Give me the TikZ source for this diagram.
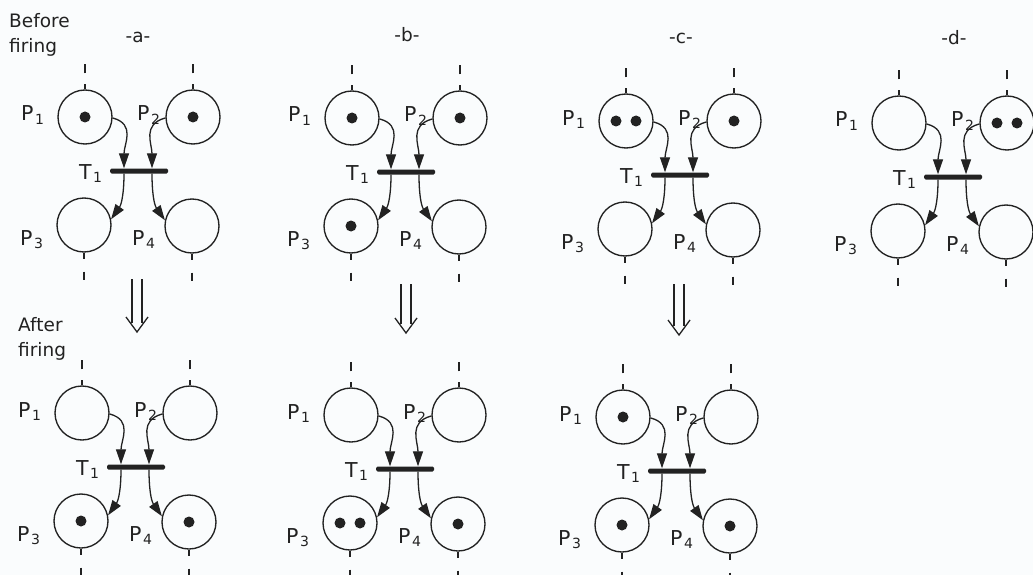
\documentclass[tikz,border=0pt]{standalone}
\usepackage{fontspec}
\setmainfont{DejaVu Sans}
\usetikzlibrary{arrows.meta}
\definecolor{ink}{HTML}{222222}
\definecolor{paper}{HTML}{FAFCFD}
\tikzset{
 place/.style={circle, draw=ink, line width=1.35pt, minimum size=54pt, inner sep=0pt},
 tbar/.style={rectangle, fill=ink, minimum width=58pt, minimum height=5pt, inner sep=0pt, rounded corners=1.5pt},
 arc/.style={draw=ink, line width=1.3pt, -{Triangle[length=15pt,width=10pt]}},
 lab/.style={font=\fontsize{20.5}{20.5}\selectfont, text=ink, inner sep=0pt, anchor=base west},
 ttl/.style={font=\fontsize{18.5}{18.5}\selectfont, text=ink, inner sep=0pt},
 stub/.style={draw=ink, line width=1.2pt},
 dblarrow/.style={draw=ink, line width=1.3pt},
}
\newcommand\psub[1]{\kern1.5pt\raisebox{-3.5pt}{\fontsize{14}{14}\selectfont #1}}
\newcommand\tokens[2]{\ifcase#2\or
  \fill[ink] (#1.center) circle (5.5pt);\or
  \fill[ink] ([xshift=-10pt]#1.center) circle (5.5pt);
  \fill[ink] ([xshift=10pt]#1.center) circle (5.5pt);\fi}
\newcommand\petrinet[7]{%
\begin{scope}[shift={(#2,-#3)}]
 \node[place] (#1p1) at (0,0) {};
 \node[place] (#1p2) at (108,0) {};
 \node[place] (#1p3) at (-1,-108) {};
 \node[place] (#1p4) at (107,-109) {};
 \node[tbar] (#1t) at (54,-54) {};
 \node[lab] (#1l1) at (-64,-4) {P\psub{1}};
 \node[lab] (#1l2) at (52,-4) {P\psub{2}};
 \node[lab] (#1l3) at (-65,-128) {P\psub{3}};
 \node[lab] (#1l4) at (47,-128) {P\psub{4}};
 \node[lab] (#1lt) at (-6,-62) {T\psub{1}};
 \draw[arc] (#1p1.-2) to[out=-15,in=90,looseness=1.2] ([xshift=-15pt]#1t.north);
 \draw[arc] (#1p2.182) to[out=195,in=90,looseness=1.2] ([xshift=13pt]#1t.north);
 \draw[arc] ([xshift=-15pt]#1t.south) to[out=-90,in=55] (#1p3.12);
 \draw[arc] ([xshift=13pt]#1t.south) to[out=-90,in=125] (#1p4.168);
 \draw[stub] (#1p1.north) -- ++(0,5);
 \draw[stub] ([yshift=16pt]#1p1.north) -- ++(0,9);
 \draw[stub] (#1p2.north) -- ++(0,5);
 \draw[stub] ([yshift=16pt]#1p2.north) -- ++(0,9);
 \draw[stub] (#1p3.south) -- ++(0,-6);
 \draw[stub] ([yshift=-19pt]#1p3.south) -- ++(0,-8);
 \draw[stub] (#1p4.south) -- ++(0,-6);
 \draw[stub] ([yshift=-19pt]#1p4.south) -- ++(0,-8);
 \tokens{#1p1}{#4}
 \tokens{#1p2}{#5}
 \tokens{#1p3}{#6}
 \tokens{#1p4}{#7}
\end{scope}}
\newcommand\downarr[3]{%
 \draw[dblarrow] ({#1-5},{-#2}) -- ({#1-5},{-(#3-9)});
 \draw[dblarrow] ({#1+5},{-#2}) -- ({#1+5},{-(#3-9)});
 \draw[dblarrow, line join=miter] ({#1-11},{-(#3-15)}) -- (#1,-#3) -- ({#1+11},{-(#3-15)});}
\begin{document}
\begin{tikzpicture}[x=1pt,y=1pt]
\useasboundingbox (0,0) rectangle (1033,-575);
\fill[paper] (0,0) rectangle (1033,-575);
\node[ttl, anchor=base west] (bf1) at (9,-28) {Before};
\node[ttl, anchor=base west] (bf2) at (9,-53) {firing};
\node[ttl, anchor=base west] (af1) at (18,-331) {After};
\node[ttl, anchor=base west] (af2) at (18,-356) {firing};
\node[ttl, anchor=base] (ta) at (138,-43) {-a-};
\node[ttl, anchor=base] (tb) at (407,-42) {-b-};
\node[ttl, anchor=base] (tc) at (681,-44) {-c-};
\node[ttl, anchor=base] (td) at (954,-45) {-d-};
\petrinet{a}{85}{117}{1}{1}{0}{0}
\petrinet{b}{352}{118}{1}{1}{1}{0}
\petrinet{c}{626}{121}{2}{1}{0}{0}
\petrinet{d}{899}{123}{0}{2}{0}{0}
\petrinet{e}{82}{413}{0}{0}{1}{1}
\petrinet{f}{351}{415}{0}{0}{2}{1}
\petrinet{g}{623}{417}{1}{0}{1}{1}
\downarr{137}{279}{332}
\downarr{406}{284}{333}
\downarr{679}{284}{335}
\end{tikzpicture}
\end{document}
